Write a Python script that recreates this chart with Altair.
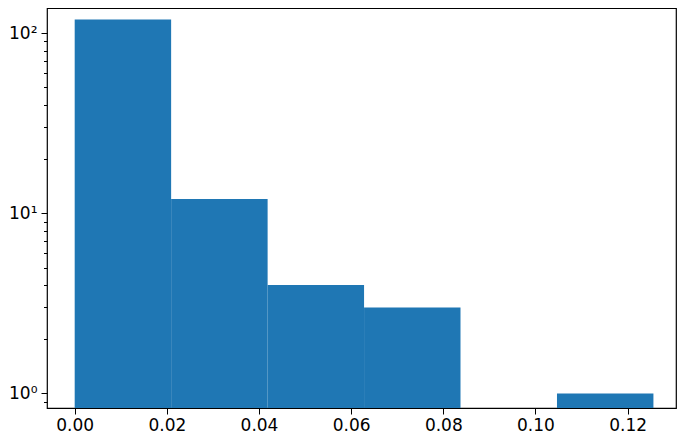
import altair as alt
import pandas as pd

bin_start = [0.0, 0.02093, 0.04187, 0.0628, 0.08373, 0.10467]
bin_end = [0.02093, 0.04187, 0.0628, 0.08373, 0.10467, 0.1256]
counts = [119, 12, 4, 3, 0, 1]

x_ticks = [0.0, 0.02, 0.04, 0.06, 0.08, 0.10, 0.12]
y_ticks = [0.8, 0.9, 1, 2, 3, 4, 5, 6, 7, 8, 9, 10, 20, 30, 40, 50, 60, 70, 80, 90, 100]

df = pd.DataFrame({"start": bin_start, "end": bin_end, "count": counts})

W, H = 629, 400

bars = alt.Chart(df).transform_filter("datum.count > 0").mark_rect(
    color="#1f77b4"
).encode(
    x=alt.X("start:Q",
            scale=alt.Scale(domain=[-0.00601, 0.1305], nice=False, zero=False),
            axis=alt.Axis(values=x_ticks, format=".2f", title=None, grid=False,
                          domain=False, tickColor="black", tickSize=6,
                          labelColor="black", labelFont="DejaVu Sans",
                          labelFontSize=17, labelPadding=3, labelFlush=False)),
    x2="end:Q",
    y=alt.Y("count:Q",
            scale=alt.Scale(type="log", domain=[0.83, 138.0], nice=False),
            axis=alt.Axis(values=y_ticks, title=None, grid=False, domain=False,
                          tickColor="black",
                          tickSize={"condition": {"test": "datum.value == 1 || datum.value == 10 || datum.value == 100", "value": 6}, "value": 3.5},
                          labelExpr="datum.value == 100 ? '10²' : datum.value == 10 ? '10¹' : datum.value == 1 ? '10⁰' : ''",
                          labelColor="black", labelFont="DejaVu Sans",
                          labelFontSize=17, labelPadding=4, labelFlush=False)),
    y2=alt.value(H),
)

chart = bars.properties(
    width=W, height=H,
    autosize=alt.AutoSizeParams(type="none"),
    padding={"left": 39, "top": 0, "right": 1, "bottom": 28},
).configure_view(stroke="black", strokeWidth=1.2)

chart.save("out.html", embed_options={"renderer": "svg", "actions": False})
